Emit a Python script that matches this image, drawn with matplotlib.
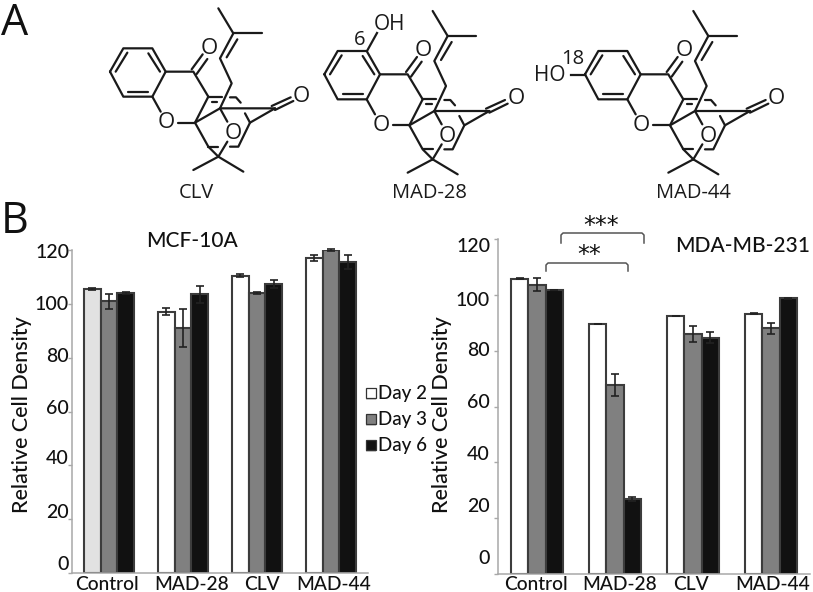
import matplotlib
matplotlib.use('Agg')
import matplotlib.pyplot as plt
from matplotlib.patches import Rectangle
import numpy as np

plt.rcParams['font.family'] = ['Lato', 'DejaVu Sans']
plt.rcParams['font.weight'] = 'medium'

W, H = 813, 592

# Chart data
groups = ['Control', 'MAD-28', 'CLV', 'MAD-44']
days = ['Day 2', 'Day 3', 'Day 6']
y_ticks = [0, 20, 40, 60, 80, 100, 120]

mcf_day2 = [105.5, 97, 110.5, 117]
mcf_day3 = [101, 91, 104, 120]
mcf_day6 = [104, 103.5, 107.5, 115.5]
mcf_err2 = [0.2, 1.3, 0.5, 1]
mcf_err3 = [2.8, 7, 0.5, 0.3]
mcf_err6 = [0.4, 3.2, 1.5, 2.5]

mda_day2 = [105.7, 89.5, 92.3, 93.3]
mda_day3 = [103.7, 67.6, 86, 88]
mda_day6 = [101.8, 26.8, 84.7, 98.7]
mda_err2 = [0.2, 0, 0, 0.3]
mda_err3 = [2.4, 3.9, 3, 2]
mda_err6 = [0, 0.8, 2, 0.3]

bar_colors = ['white', '#808080', '#111111']
edge_color = '#3c3c3c'

# Molecule skeleton (3x pixel coordinates)
bonds = [
    [(330, 215), (370, 145), (457, 145), (497, 215), (457, 290), (370, 290), (330, 215)],
    [(347, 215), (382, 158)], [(445, 160), (480, 215)], [(385, 275), (445, 275)],
    [(497, 215), (580, 215), (625, 290)],
    [(575, 208), (608, 163)], [(590, 222), (622, 177)],
    [(457, 290), (482, 335)], [(535, 368), (585, 368)],
    [(625, 290), (585, 368), (625, 440), (655, 470)],
    [(585, 368), (660, 325), (825, 325)],
    [(660, 325), (695, 250), (660, 175), (700, 100), (655, 25)],
    [(700, 100), (785, 100)], [(680, 172), (712, 118)],
    [(625, 290), (665, 290)], [(635, 305), (652, 305)], [(690, 292), (708, 292), (722, 308)],
    [(660, 325), (682, 365)], [(682, 425), (655, 470)],
    [(625, 440), (655, 440)], [(690, 440), (715, 440), (750, 368), (825, 325)],
    [(735, 340), (750, 368)],
    [(815, 318), (872, 292)], [(825, 330), (880, 303)],
    [(655, 470), (580, 510)], [(655, 470), (730, 515)],
]
mol_offsets = [(0, 0), (643, 8), (1425, 8)]
mol_names = ['CLV', 'MAD-28', 'MAD-44']
mol_name_pos = [(196, 193), (429, 193), (693, 193)]
o_atoms = [(628, 145), (500, 368), (700, 400), (905, 288)]


def px_axes(x0, y0, x1, y1):
    return fig.add_axes([x0 / W, 1 - y1 / H, (x1 - x0) / W, (y1 - y0) / H])


def draw_bars(ax, vals, errs):
    x = np.arange(len(groups))
    width = 0.224
    for i in range(3):
        pos = x + (i - 1) * width
        ax.bar(pos, vals[i], width, color=bar_colors[i], edgecolor=edge_color, linewidth=1.5)
        ax.errorbar(pos, vals[i], yerr=errs[i], fmt='none', ecolor='#222222',
                    elinewidth=1.2, capsize=3, capthick=1.2, clip_on=False)
    ax.set_xlim(-0.5, 3.5)
    ax.set_ylim(0, 120)
    ax.set_yticks(y_ticks)
    ax.set_xticks([])
    ax.tick_params(axis='y', labelleft=False, length=3, width=1, color='#a8a8a8')
    for s in ['top', 'right']:
        ax.spines[s].set_visible(False)
    for s in ['left', 'bottom']:
        ax.spines[s].set_color('#a8a8a8')
        ax.spines[s].set_linewidth(1.1)
    ax.patch.set_alpha(0)


fig = plt.figure(figsize=(W / 100, H / 100), dpi=100)

ax1 = px_axes(72, 250, 368, 573)
draw_bars(ax1, [mcf_day2, mcf_day3, mcf_day6], [mcf_err2, mcf_err3, mcf_err6])
ax1.patches[0].set_facecolor('#e2e2e2')

ax2 = px_axes(498, 239, 810, 574)
draw_bars(ax2, [mda_day2, mda_day3, mda_day6], [mda_err2, mda_err3, mda_err6])

# Overlay in pixel coordinates for text and drawings
ov = fig.add_axes([0, 0, 1, 1], zorder=5)
ov.set_xlim(0, W)
ov.set_ylim(H, 0)
ov.axis('off')
ov.patch.set_alpha(0)

# Molecules
for k, (dx, dy) in enumerate(mol_offsets):
    for b in bonds:
        xs = [(p[0] + dx) / 3 for p in b]
        ys = [(p[1] + dy) / 3 for p in b]
        ov.plot(xs, ys, color='#1a1a1a', lw=1.6, solid_capstyle='round', solid_joinstyle='round')
    for ox, oy in o_atoms:
        ov.text((ox + dx) / 3, (oy + dy) / 3, 'O', fontsize=16, ha='center', va='center',
                family='Open Sans', color='#1a1a1a')
    ov.text(mol_name_pos[k][0], mol_name_pos[k][1], mol_names[k], fontsize=14.5, ha='center',
            va='center', family='Open Sans', color='#1a1a1a')

# Hydroxyl groups
ov.plot([367, 377], [51, 33], color='#1a1a1a', lw=1.6)
ov.text(389, 25, 'OH', fontsize=15, ha='center', va='center', family='Open Sans', color='#1a1a1a')
ov.text(360, 40, '6', fontsize=14.5, ha='center', va='center', family='Open Sans', color='#1a1a1a')
ov.plot([571, 585], [75, 75], color='#1a1a1a', lw=1.6)
ov.text(550, 75.5, 'HO', fontsize=15, ha='center', va='center', family='Open Sans', color='#1a1a1a')
ov.text(573, 59, '18', fontsize=14.5, ha='center', va='center', family='Open Sans', color='#1a1a1a')

# Panel letters
ov.text(15, 24, 'A', fontsize=31, ha='center', va='center', family='Open Sans', color='#111111')
ov.text(15, 222, 'B', fontsize=31, ha='center', va='center', family='Open Sans', color='#111111')

# Titles
ov.text(192, 241, 'MCF-10A', fontsize=15, ha='center', va='center', color='#111111')
ov.text(743, 246, 'MDA-MB-231', fontsize=15, ha='center', va='center', color='#111111')

# Y tick labels sit a little off the ticks in the picture
left_label_y = [564, 512, 459, 409, 357, 305, 253]
right_label_y = [559, 506, 455, 403, 351, 300, 247]
for t, y in zip(y_ticks, left_label_y):
    ov.text(69, y, str(t), fontsize=14, ha='right', va='center', color='#111111')
for t, y in zip(y_ticks, right_label_y):
    ov.text(490, y, str(t), fontsize=14, ha='right', va='center', color='#111111')

# Y axis titles
ov.text(22, 415, 'Relative Cell Density', fontsize=15.5, rotation=90, ha='center', va='center', color='#111111')
ov.text(442, 415, 'Relative Cell Density', fontsize=15.5, rotation=90, ha='center', va='center', color='#111111')

# Group labels
for name, x in zip(groups, [107, 192, 262, 334]):
    ov.text(x, 585, name, fontsize=13.8, ha='center', va='center', color='#111111')
for name, x in zip(groups, [536, 620, 691, 773]):
    ov.text(x, 585, name, fontsize=13.8, ha='center', va='center', color='#111111')

# Legend with its soft shadow
for day, col, y in zip(days, bar_colors, [393, 419, 445]):
    ov.add_patch(Rectangle((366, y - 3), 10, 10, facecolor='#b5b5b5', edgecolor='none', alpha=0.6))
    ov.add_patch(Rectangle((366, y - 5), 10, 10, facecolor=col, edgecolor='#333333', linewidth=0.9))
    ov.text(378, y, day, fontsize=13.5, ha='left', va='center', color='#111111')

# Significance brackets
ov.plot([561, 561, 563, 642, 644, 644], [243, 235, 233, 233, 235, 243], color='#555555', lw=1.1)
ov.plot([546, 546, 548, 626, 628, 628], [271, 265, 263, 263, 265, 271], color='#555555', lw=1.1)
ov.text(601, 226, '***', fontsize=17, ha='center', va='center', family='DejaVu Sans', color='#111111')
ov.text(589, 255, '**', fontsize=17, ha='center', va='center', family='DejaVu Sans', color='#111111')

fig.savefig('out.png', dpi=100)
